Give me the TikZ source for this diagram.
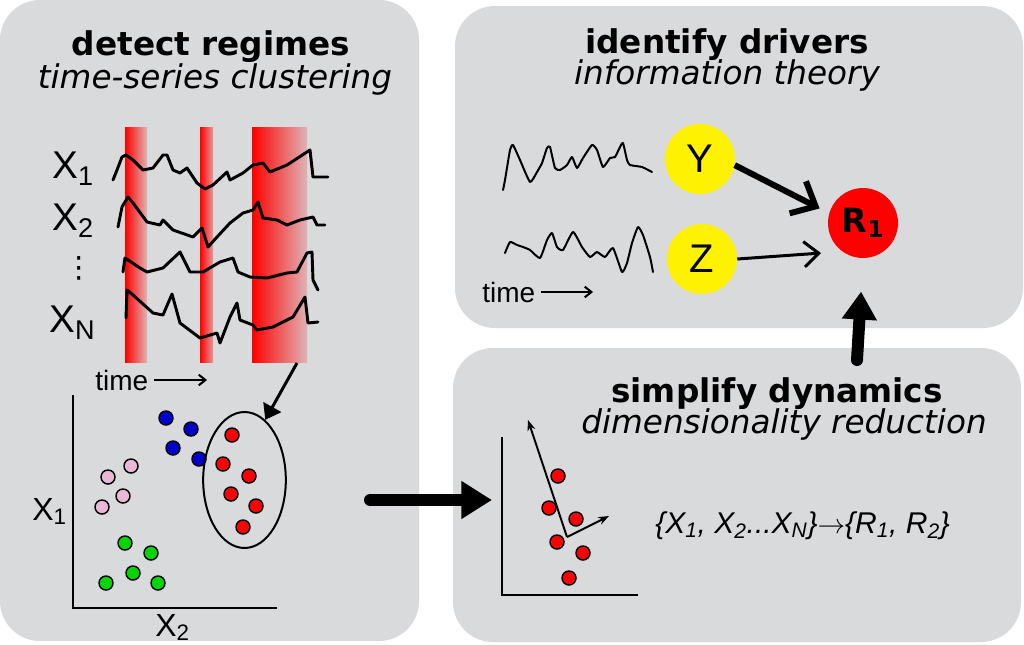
\documentclass[tikz,border=0pt]{standalone}
\usepackage{fontspec}
\setmainfont{DejaVu Sans}
\newfontfamily\arialfont{Liberation Sans}
\usepackage{tikz}
\usetikzlibrary{arrows.meta,shapes.geometric}
\definecolor{panelgray}{RGB}{217,218,220}
\definecolor{dotblue}{RGB}{0,0,205}
\definecolor{dotpink}{RGB}{234,184,214}
\definecolor{dotgreen}{RGB}{0,214,0}

\begin{document}
\begin{tikzpicture}[x=0.75pt, y=-0.75pt, >=Stealth,
    panel/.style={fill=panelgray, rounded corners=30pt},
    titlebold/.style={font=\fontsize{24.5}{29}\selectfont\bfseries, anchor=base, inner sep=0pt},
    titleital/.style={font=\fontsize{24.5}{29}\selectfont\itshape, anchor=base, inner sep=0pt},
    serieslbl/.style={font=\arialfont\fontsize{29}{34}\selectfont, anchor=base west, inner sep=0pt},
    axislbl/.style={font=\arialfont\fontsize{24}{28}\selectfont, anchor=base west, inner sep=0pt},
    timelbl/.style={font=\arialfont\fontsize{21}{25}\selectfont, anchor=base west, inner sep=0pt},
    timearr/.style={line width=1.5pt, shorten <=4pt, -{Straight Barb[length=5pt,width=8pt]}},
    series/.style={line width=2.2pt, line join=round, line cap=round},
    seriesthin/.style={line width=1.5pt, line join=round, line cap=round, smooth, tension=0.3},
    dot/.style={draw=black, line width=1.1pt},
    driver/.style={circle, fill=yellow, minimum size=52.5pt, inner sep=0pt,
        font=\arialfont\fontsize{30}{36}\selectfont},
    bigarr/.style={line width=9pt, line cap=round, -{Triangle[length=23pt,width=27pt]}},
    thickarr/.style={line width=4.5pt, -{Straight Barb[length=15pt,width=27pt]}},
    thinarr/.style={line width=2.25pt, -{Straight Barb[length=11pt,width=19pt]}},
    pcarr/.style={line width=1.5pt, -{Stealth[length=8pt,width=6pt]}},
    axisline/.style={line width=1.5pt, line join=miter}
]
\useasboundingbox (0,0) rectangle (1024,644);

% Paneles
\fill[panel] (0,0) rectangle (419,641);
\fill[panel] (455,6) rectangle (1023,328);
\fill[panel] (453,348) rectangle (1021,642);

% Titulos
\node[titlebold] (detecttitle) at (211,55) {detect regimes};
\node[titleital] (detectsub) at (215,88) {time-series clustering};
\node[titlebold] (drivertitle) at (727,53) {identify drivers};
\node[titleital] (driversub) at (727,84) {information theory};
\node[titlebold] (simpletitle) at (777,402) {simplify dynamics};
\node[titleital] (simplesub) at (784,433) {dimensionality reduction};

% Regimenes
\shade[left color=red, right color=red!18!panelgray] (125,127) rectangle (147,362);
\shade[left color=red, right color=red!30!panelgray] (200,127) rectangle (213,362);
\shade[left color=red, right color=red!18!panelgray] (252,127) rectangle (307,362);

% Series de tiempo
\node[serieslbl] (x1) at (52,178) {X\textsubscript{1}};
\node[serieslbl] (x2) at (52,230) {X\textsubscript{2}};
\node[font=\fontsize{22}{26}\selectfont, inner sep=0pt] (vdots) at (79,268) {⋮};
\node[serieslbl] (xn) at (49,332) {X\textsubscript{N}};

\draw[series] plot coordinates {(113,180) (117,170) (122,157) (126,155) (133,160)
    (143,170) (153,168) (163,155) (167,155) (173,170) (180,173) (187,168) (197,183)
    (205,189) (213,185) (227,172) (230,180) (243,173) (253,165) (263,163) (270,172)
    (287,165) (310,150) (313,177) (328,177)};
\draw[series] plot coordinates {(118,227) (122,207) (128,197) (133,203) (147,222)
    (160,225) (163,220) (173,230) (193,237) (202,228) (208,247) (217,237) (230,223)
    (243,213) (253,210) (258,202) (263,218) (277,220) (287,225) (300,220) (313,217)
    (317,225) (325,225)};
\draw[series] plot coordinates {(123,272) (125,258) (140,268) (147,272) (163,268)
    (180,252) (190,272) (203,272) (220,262) (233,258) (238,272) (250,277) (267,278)
    (287,273) (297,272) (307,253) (312,252) (313,280) (318,290)};
\draw[series] plot coordinates {(126,318) (127,290) (133,295) (153,313) (163,315)
    (172,294) (180,323) (200,338) (217,333) (220,343) (230,317) (237,303) (240,320)
    (253,325) (257,330) (273,327) (293,317) (305,297) (308,323) (318,322)};

\node[timelbl] (timeL) at (95,390) {time};
\coordinate (timeLend) at (207,382);
\draw[timearr] (timeL.east) -- (timeL.east -| timeLend);

% Agrupamiento
\draw[axisline] (73,395) -- (73,608) -- (277,608);
\node[axislbl] (sx1) at (32,520) {X\textsubscript{1}};
\node[axislbl] (sx2) at (155,636) {X\textsubscript{2}};

\foreach \x/\y in {166/418, 191/429, 173/448, 199/459}
    \filldraw[dot, fill=dotblue] (\x,\y) circle[radius=5.25pt];
\foreach \x/\y in {131/466, 108/477, 123/496, 102/507}
    \filldraw[dot, fill=dotpink] (\x,\y) circle[radius=5.25pt];
\foreach \x/\y in {125/543, 151/553, 133/573, 106/583, 158/583}
    \filldraw[dot, fill=dotgreen] (\x,\y) circle[radius=5.25pt];
\foreach \x/\y in {232/435, 223/464, 249/476, 231/494, 256/506, 243/527}
    \filldraw[dot, fill=red] (\x,\y) circle[radius=5.25pt];

\node[ellipse, draw, line width=1.5pt, minimum width=62pt, minimum height=102pt,
    inner sep=0pt] (clust) at (244.5,480) {};
\coordinate (bandtip) at (297,363);
\draw[line width=2.25pt, -{Triangle[length=11pt,width=15pt]}] (bandtip) -- (clust.71);

% Flecha grande
\coordinate (bigstart) at (370,500);
\coordinate (bigend) at (492,500);
\draw[bigarr] (bigstart) -- (bigend);

% Impulsores
\draw[seriesthin] plot coordinates {(503,190) (505,180) (510,150) (513,145) (520,160)
    (530,182) (537,172) (542,163) (547,148) (550,147) (555,168) (560,170) (567,165)
    (572,157) (577,168) (583,158) (592,145) (597,150) (603,167) (610,158) (615,157)
    (620,147) (623,143) (627,160) (630,165) (642,167) (652,172)};
\draw[seriesthin] plot coordinates {(505,253) (510,242) (517,245) (523,247) (530,250)
    (540,258) (547,240) (552,233) (557,247) (563,250) (573,232) (582,247) (590,257)
    (597,252) (605,257) (613,248) (622,272) (627,263) (632,243) (638,227) (643,235)
    (650,257) (653,272)};

\node[timelbl] (timeR) at (482,302) {time};
\coordinate (timeRend) at (593,293);
\draw[timearr] (timeR.east) -- (timeR.east -| timeRend);

\node[driver] (Y) at (700,159) {Y};
\node[driver] (Z) at (702,259) {Z};
\node[circle, fill=red, minimum size=52.5pt, inner sep=0pt,
    font=\fontsize{25}{30}\selectfont\bfseries] (R1) at (863,223) {R\textsubscript{1}};

\draw[thickarr, shorten >=8pt] (Y.350) -- (R1.164);
\draw[thinarr, shorten >=16pt] (Z.east) -- (R1.234);

\coordinate (upstart) at (857,360);
\draw[bigarr, -{Triangle[length=21pt,width=25pt]}, shorten >=25pt] (upstart) -- (R1.south);

% Reduccion
\draw[axisline] (502,437) -- (502,595) -- (638,595);
\foreach \x/\y in {558/476, 549/508, 576/519, 557/542, 583/553, 569/578}
    \filldraw[dot, fill=red] (\x,\y) circle[radius=5.25pt];

\coordinate (pcorigin) at (567,537);
\coordinate (pcone) at (528,420);
\coordinate (pctwo) at (609,516);
\draw[pcarr] (pcorigin) -- (pcone);
\draw[pcarr] (pcorigin) -- (pctwo);

\node[font=\arialfont\itshape\fontsize{22.5}{26}\selectfont, anchor=base west, inner sep=0pt]
    (redux) at (655,533) {\{X\textsubscript{1}, X\textsubscript{2}...X\textsubscript{N}\}$\rightarrow$\{R\textsubscript{1}, R\textsubscript{2}\}};

\end{tikzpicture}
\end{document}
